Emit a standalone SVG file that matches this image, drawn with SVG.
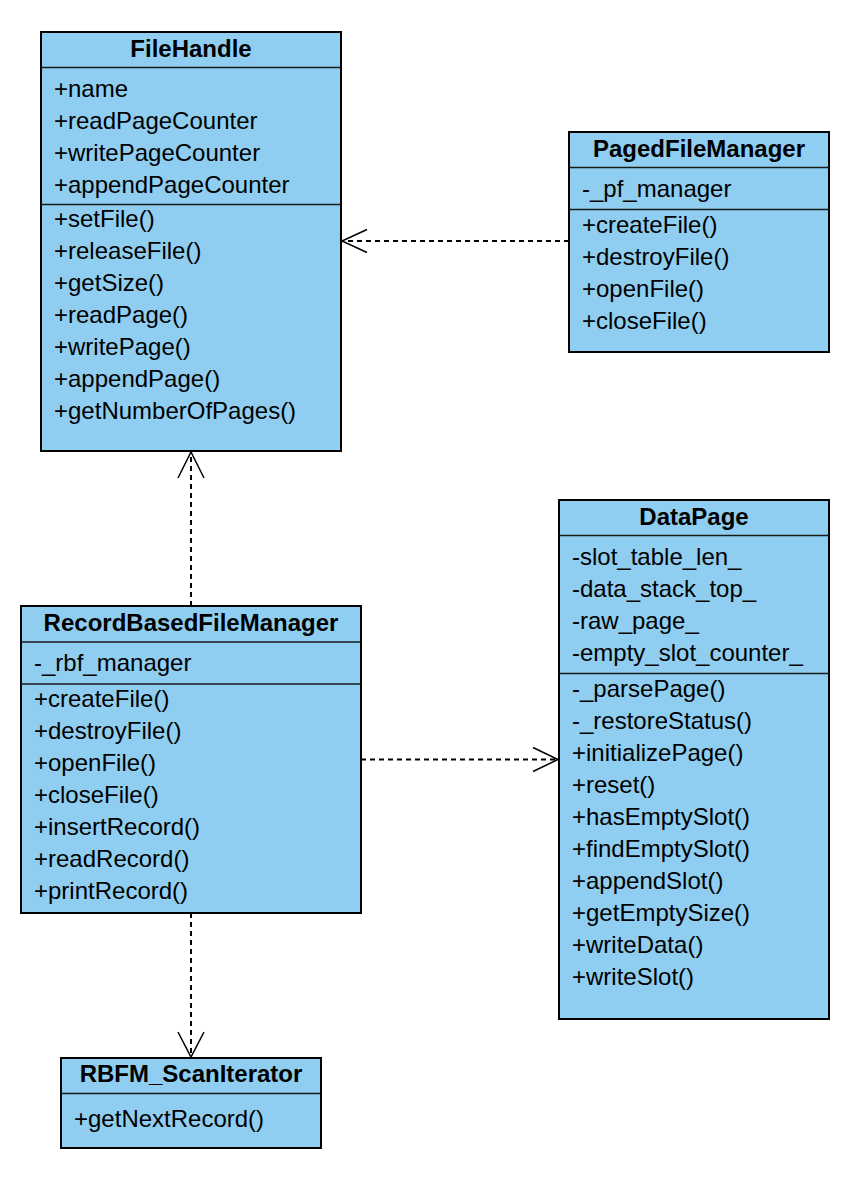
<svg xmlns="http://www.w3.org/2000/svg" width="850" height="1180" viewBox="0 0 850 1180">
<style>
.box{fill:#8FCEF1;stroke:#000;stroke-width:2}
.div{stroke:#1a1a1a;stroke-width:1.5}
.t{font-family:"Liberation Sans",Arial,sans-serif;font-size:24px;fill:#000}
.b{font-family:"Liberation Sans",Arial,sans-serif;font-size:24px;font-weight:bold;fill:#000;text-anchor:middle}
.dash{fill:none;stroke:#000;stroke-width:2;stroke-dasharray:5 4}
.head{fill:none;stroke:#000;stroke-width:1.5}
</style>
<rect width="850" height="1180" fill="#fff"/>
<g id="FileHandle">
<rect class="box" x="41" y="32" width="300" height="419"/>
<line class="div" x1="41" y1="67.5" x2="341" y2="67.5"/>
<line class="div" x1="41" y1="204.5" x2="341" y2="204.5"/>
<text class="b" x="191" y="57">FileHandle</text>
<text class="t" x="54" y="97">+name</text>
<text class="t" x="54" y="129">+readPageCounter</text>
<text class="t" x="54" y="161">+writePageCounter</text>
<text class="t" x="54" y="193">+appendPageCounter</text>
<text class="t" x="54" y="227">+setFile()</text>
<text class="t" x="54" y="259">+releaseFile()</text>
<text class="t" x="54" y="291">+getSize()</text>
<text class="t" x="54" y="323">+readPage()</text>
<text class="t" x="54" y="355">+writePage()</text>
<text class="t" x="54" y="387">+appendPage()</text>
<text class="t" x="54" y="419">+getNumberOfPages()</text>
</g>
<g id="PagedFileManager">
<rect class="box" x="569" y="132" width="260" height="220"/>
<line class="div" x1="569" y1="167.5" x2="829" y2="167.5"/>
<line class="div" x1="569" y1="209.5" x2="829" y2="209.5"/>
<text class="b" x="699" y="157">PagedFileManager</text>
<text class="t" x="582" y="197">-_pf_manager</text>
<text class="t" x="582" y="233">+createFile()</text>
<text class="t" x="582" y="265">+destroyFile()</text>
<text class="t" x="582" y="297">+openFile()</text>
<text class="t" x="582" y="329">+closeFile()</text>
</g>
<g id="RecordBasedFileManager">
<rect class="box" x="21" y="606" width="340" height="307"/>
<line class="div" x1="21" y1="642" x2="361" y2="642"/>
<line class="div" x1="21" y1="684" x2="361" y2="684"/>
<text class="b" x="191" y="631">RecordBasedFileManager</text>
<text class="t" x="34" y="671">-_rbf_manager</text>
<text class="t" x="34" y="707">+createFile()</text>
<text class="t" x="34" y="739">+destroyFile()</text>
<text class="t" x="34" y="771">+openFile()</text>
<text class="t" x="34" y="803">+closeFile()</text>
<text class="t" x="34" y="835">+insertRecord()</text>
<text class="t" x="34" y="867">+readRecord()</text>
<text class="t" x="34" y="899">+printRecord()</text>
</g>
<g id="DataPage">
<rect class="box" x="559" y="500" width="270" height="519"/>
<line class="div" x1="559" y1="535.5" x2="829" y2="535.5"/>
<line class="div" x1="559" y1="673.5" x2="829" y2="673.5"/>
<text class="b" x="694" y="525">DataPage</text>
<text class="t" x="572" y="565">-slot_table_len_</text>
<text class="t" x="572" y="597">-data_stack_top_</text>
<text class="t" x="572" y="629">-raw_page_</text>
<text class="t" x="572" y="661">-empty_slot_counter_</text>
<text class="t" x="572" y="697">-_parsePage()</text>
<text class="t" x="572" y="729">-_restoreStatus()</text>
<text class="t" x="572" y="761">+initializePage()</text>
<text class="t" x="572" y="793">+reset()</text>
<text class="t" x="572" y="825">+hasEmptySlot()</text>
<text class="t" x="572" y="857">+findEmptySlot()</text>
<text class="t" x="572" y="889">+appendSlot()</text>
<text class="t" x="572" y="921">+getEmptySize()</text>
<text class="t" x="572" y="953">+writeData()</text>
<text class="t" x="572" y="985">+writeSlot()</text>
</g>
<g id="RBFM_ScanIterator">
<rect class="box" x="61" y="1058" width="260" height="90"/>
<line class="div" x1="61" y1="1093.5" x2="321" y2="1093.5"/>
<text class="b" x="191" y="1082">RBFM_ScanIterator</text>
<text class="t" x="74" y="1127">+getNextRecord()</text>
</g>
<g id="connectors">
<line class="dash" x1="569" y1="241" x2="342" y2="241"/>
<polyline class="head" points="367,229.5 342,241 367,252.5"/>
<line class="dash" x1="191" y1="606" x2="191" y2="452"/>
<polyline class="head" points="178,478 191,452 204,478"/>
<line class="dash" x1="361" y1="759.5" x2="558" y2="759.5"/>
<polyline class="head" points="533,747.5 558,759.5 533,771.5"/>
<line class="dash" x1="191" y1="913" x2="191" y2="1057"/>
<polyline class="head" points="178,1032 191,1057 204,1032"/>
</g>
</svg>
